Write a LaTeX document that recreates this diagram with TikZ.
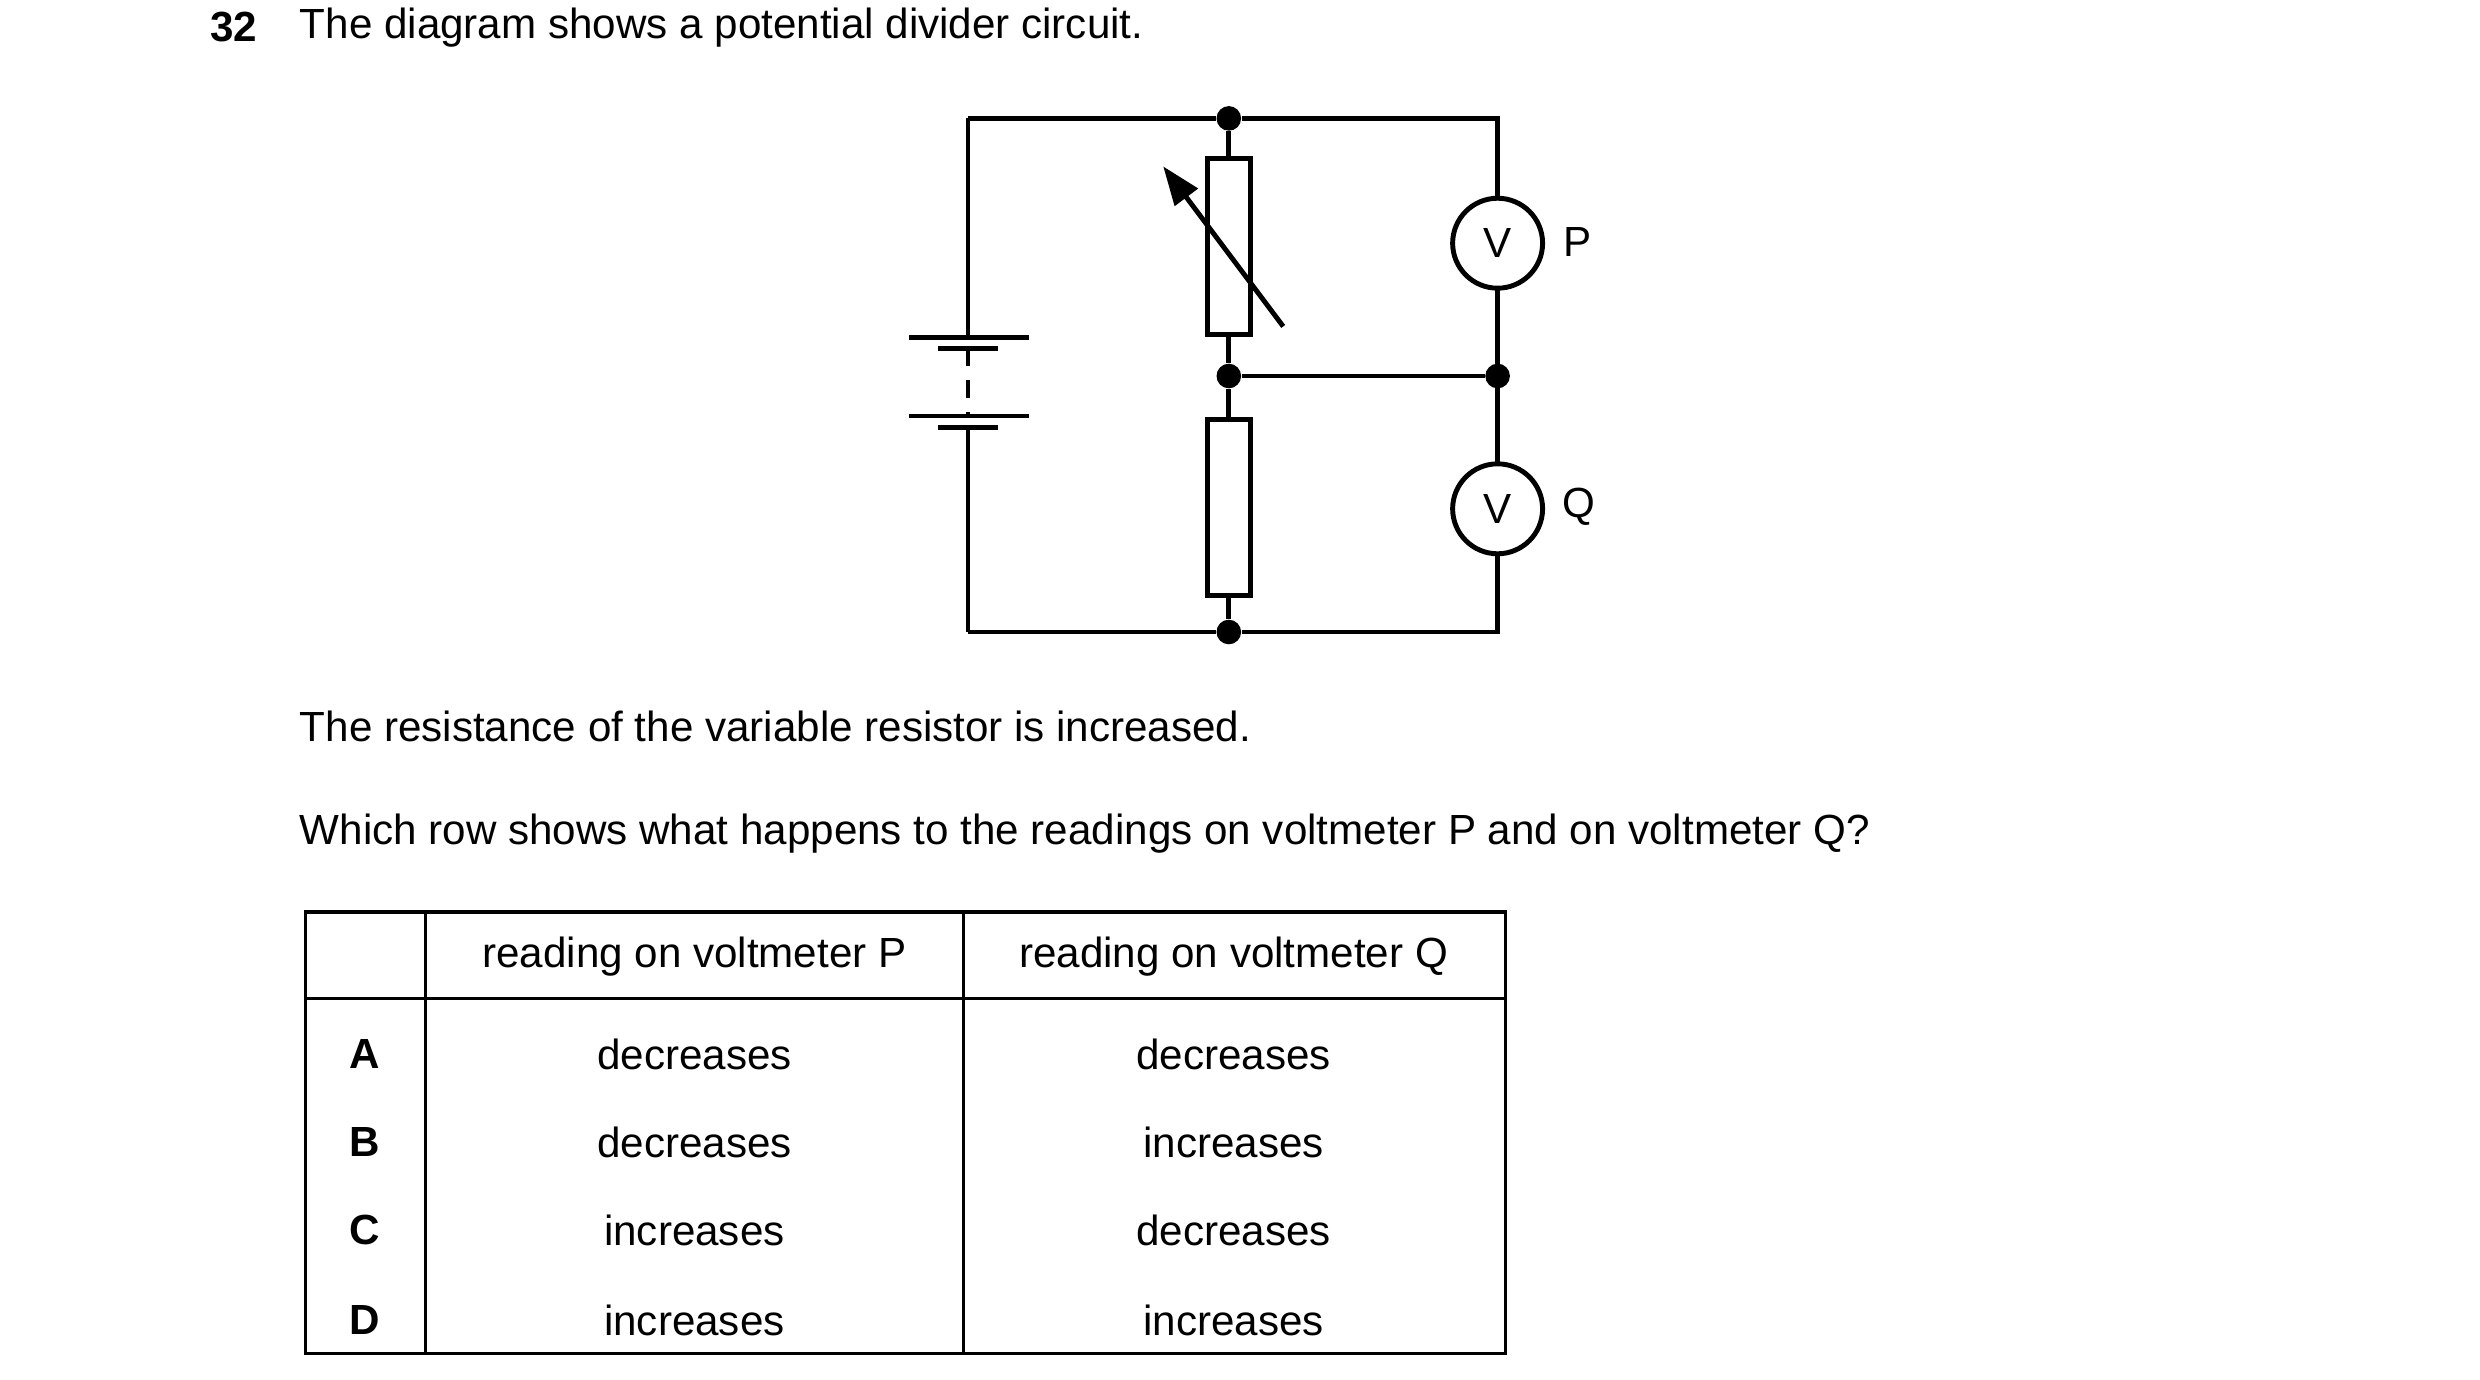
\documentclass[tikz,border=0pt]{standalone}
\usepackage{fontspec}
\setmainfont{Liberation Sans}
\usetikzlibrary{arrows.meta, calc}
\tikzset{
    my-wire/.style={
        line width=1.4pt
    },
    my-branch/.style={
        fill, shape=circle, minimum size=7pt, inner sep=0pt
    },
    my-resistor/.style={
        draw, line width=1.4pt, fill=white, minimum width=0.43cm, minimum height=1.76cm, inner sep=0pt
    },
    my-meter/.style={
        draw, line width=1.4pt, fill=white, shape=circle, minimum size=0.9cm, inner sep=0pt
    },
    my-text/.style={
        anchor=west, inner sep=0pt, font=\fontsize{12}{14}\selectfont
    },
    my-cell/.style={
        inner sep=0pt, font=\fontsize{12}{14}\selectfont
    },
}
\begin{document}
\begin{tikzpicture}[x=0.016cm, y=-0.016cm]
        \useasboundingbox (0,0) rectangle (1550,862);

        % QUESTION TEXT ------------------------------------------------------------------------------
        \node[my-text, font=\fontsize{12}{14}\selectfont\bfseries] (NUM) at (131, 17) {32};
        \node[my-text] (TITLE) at (187, 17)  {The diagram shows a potential divider circuit.};
        \node[my-text] (LINE1) at (187, 454) {The resistance of the variable resistor is increased.};
        \node[my-text] (LINE2) at (187, 521) {Which row shows what happens to the readings on voltmeter P and on voltmeter Q?};

        % CIRCUIT CORNERS AND JUNCTIONS
        \coordinate (TL) at (605, 74);
        \coordinate (TR) at (936, 74);
        \coordinate (BL) at (605, 395);
        \coordinate (BR) at (936, 395);
        \node[my-branch] (JTOP) at (768, 74)  {};
        \node[my-branch] (JMID) at (768, 235) {};
        \node[my-branch] (JRGT) at (936, 235) {};
        \node[my-branch] (JBOT) at (768, 395) {};

        % BATTERY
        \coordinate (BATTOP) at (605, 211);
        \coordinate (BATBOT) at (605, 267);
        \coordinate (CELL1)  at (605, 218);
        \coordinate (CELL2)  at (605, 260);
        \draw[my-wire] (TL) -- (BATTOP);
        \draw[my-wire] (BATBOT) -- (BL);
        \draw[my-wire] ($(BATTOP) + (-37, 0)$) -- ($(BATTOP) + (38, 0)$);
        \draw[my-wire] ($(CELL1)  + (-19, 0)$) -- ($(CELL1)  + (19, 0)$);
        \draw[my-wire] ($(CELL2)  + (-37, 0)$) -- ($(CELL2)  + (38, 0)$);
        \draw[my-wire] ($(BATBOT) + (-19, 0)$) -- ($(BATBOT) + (19, 0)$);
        \draw[my-wire, dash pattern=on 5pt off 4pt] (CELL1) -- (CELL2);

        % OUTER WIRES
        \draw[my-wire] (TL) -- (JTOP) -- (TR) -- (BR) -- (JBOT) -- (BL);
        \draw[my-wire] (JMID) -- (JRGT);

        % RESISTORS
        \draw[my-wire] (JTOP) -- (JMID) -- (JBOT);
        \node[my-resistor] (VARRES) at (768, 154) {};
        \node[my-resistor] (FIXRES) at (768, 317) {};
        \coordinate (ARROWTAIL) at (802, 204);
        \coordinate (ARROWHEAD) at (727, 104);
        \draw[my-wire, -{Triangle[length=11pt, width=8pt]}] (ARROWTAIL) -- (ARROWHEAD);

        % VOLTMETERS
        \node[my-meter, my-cell] (VP) at (936, 152) {V};
        \node[my-meter, my-cell] (VQ) at (936, 318) {V};
        \node[my-cell] (PLAB) at (986, 151) {P};
        \node[my-cell] (QLAB) at (987, 317) {Q};

        % TABLE --------------------------------------------------------------------------------------
        \draw[line width=0.9pt] (191, 570) rectangle (941, 846);
        \draw[line width=0.9pt] (191, 624) -- (941, 624);
        \draw[line width=0.9pt] (266, 570) -- (266, 846);
        \draw[line width=0.9pt] (602, 570) -- (602, 846);

        \node[my-cell] (HEADP) at (434, 598) {reading on voltmeter P};
        \node[my-cell] (HEADQ) at (771, 598) {reading on voltmeter Q};
        \foreach \row/\ylab/\pval/\qval in {A/659/decreases/decreases, B/714/decreases/increases,
                                          C/769/increases/decreases, D/825/increases/increases} {
            \node[my-cell, font=\fontsize{12}{14}\selectfont\bfseries] (ROW\row) at (228, \ylab) {\row};
            \node[my-cell] (P\row) at (434, \ylab) {\pval};
            \node[my-cell] (Q\row) at (771, \ylab) {\qval};
        }

    \end{tikzpicture}
\end{document}
